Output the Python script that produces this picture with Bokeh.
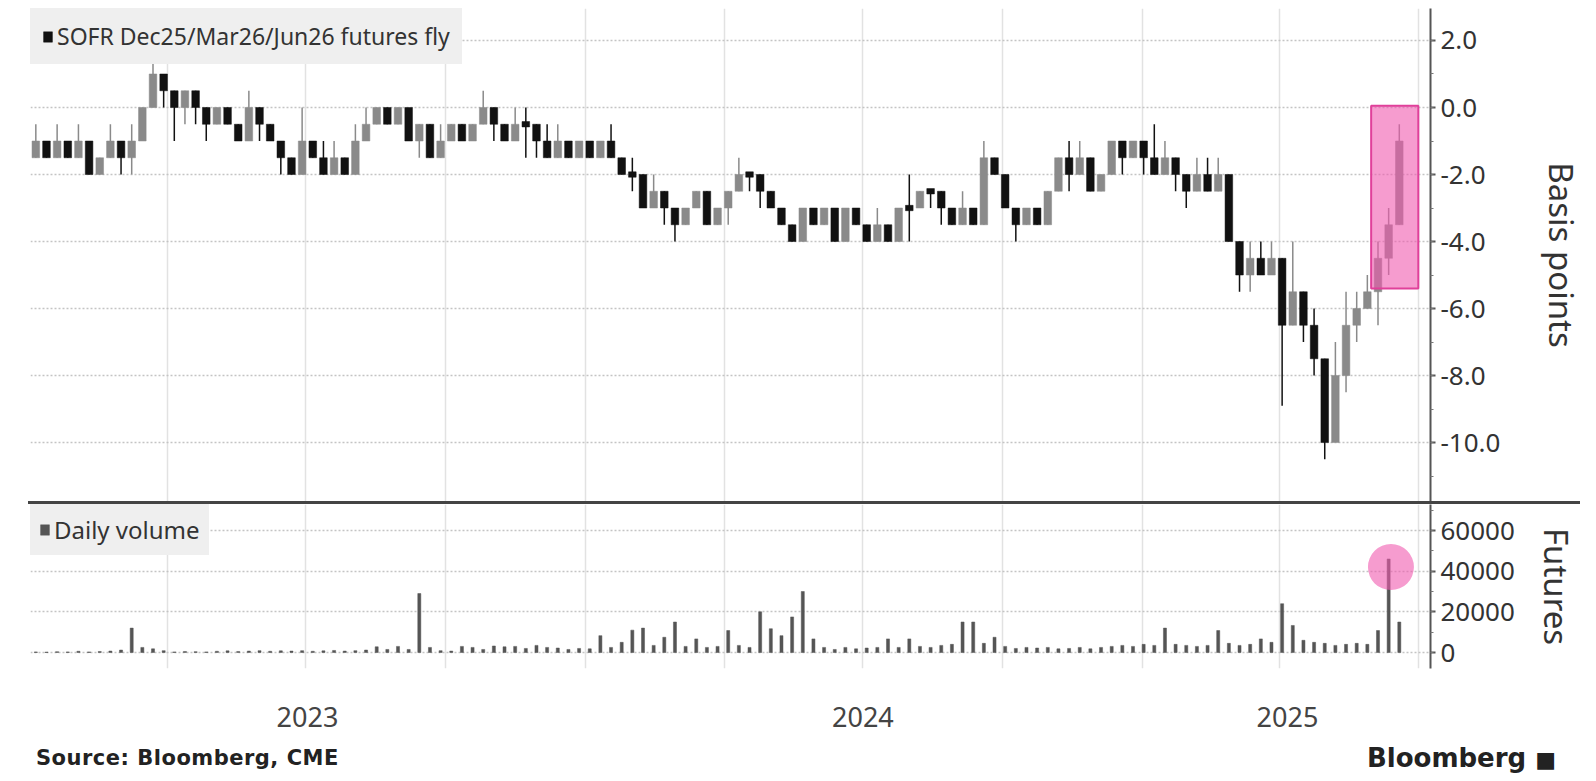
import pandas as pd
from bokeh.plotting import figure
from bokeh.layouts import column, row
from bokeh.models import (Range1d, FixedTicker, SingleIntervalTicker, Legend, LegendItem,
                          Div, Spacer, ColumnDataSource, NumeralTickFormatter, CustomJSTickFormatter)
from bokeh.embed import file_html
from bokeh.resources import INLINE

# ---------------- data (weekly bars) ----------------
first_open = -1.5
closes = [
    -1.0, -1.5, -1.0, -1.5, -1.0, -2.0, -1.5, -1.0, -1.5, -1.0,
    0.0, 1.0, 0.5, 0.0, 0.5, 0.0, -0.5, 0.0, -0.5, -1.0,
    0.0, -0.5, -1.0, -1.5, -2.0, -1.0, -1.5, -2.0, -1.5, -2.0,
    -1.0, -0.5, 0.0, -0.5, 0.0, -1.0, -0.5, -1.5, -1.0, -0.5,
    -1.0, -0.5, 0.0, -0.5, -1.0, -0.5, -0.5, -1.0, -1.5, -1.0,
    -1.5, -1.0, -1.5, -1.0, -1.5, -2.0, -2.0, -3.0, -2.5, -3.0,
    -3.5, -3.0, -2.5, -3.5, -3.0, -2.5, -2.0, -2.0, -2.5, -3.0,
    -3.5, -4.0, -3.0, -3.5, -3.0, -4.0, -3.0, -3.5, -4.0, -3.5,
    -4.0, -3.0, -3.0, -2.5, -2.5, -3.0, -3.5, -3.0, -3.5, -1.5,
    -2.0, -3.0, -3.5, -3.0, -3.5, -2.5, -1.5, -2.0, -1.5, -2.5,
    -2.0, -1.0, -1.5, -1.0, -1.5, -2.0, -1.5, -2.0, -2.5, -2.0,
    -2.5, -2.0, -4.0, -5.0, -4.5, -5.0, -4.5, -6.5, -5.5, -6.5,
    -7.5, -10.0, -8.0, -6.5, -6.0, -5.5, -4.5, -3.5, -1.0,
]
highs = [
    -0.5, -1.0, -0.5, -1.0, -0.5, -1.0, -1.5, -0.5, -1.0, -0.5,
    0.0, 1.5, 1.0, 0.5, 0.5, 0.5, 0.0, 0.0, 0.0, -0.5,
    0.5, 0.0, -0.5, -1.0, -1.5, 0.0, -1.0, -1.0, -1.0, -1.5,
    -0.5, 0.0, 0.0, 0.0, 0.0, -0.5, -0.5, -0.5, -0.5, -0.5,
    -0.5, -0.5, 0.5, 0.0, -0.5, 0.0, 0.0, -0.5, -0.5, -0.5,
    -1.0, -1.0, -1.0, -1.0, -0.5, -1.5, -1.5, -2.0, -2.0, -2.5,
    -3.0, -3.0, -2.5, -2.5, -3.0, -2.5, -1.5, -2.0, -2.0, -2.5,
    -3.0, -3.5, -3.0, -3.0, -3.0, -3.0, -3.0, -3.0, -3.5, -3.0,
    -3.5, -3.0, -2.0, -2.5, -2.5, -2.5, -3.0, -2.5, -3.0, -1.0,
    -1.5, -2.0, -3.0, -3.0, -3.0, -2.5, -1.5, -1.0, -1.0, -1.5,
    -2.0, -1.0, -1.0, -1.0, -1.0, -0.5, -1.0, -1.5, -2.0, -1.5,
    -1.5, -1.5, -2.0, -4.0, -4.0, -4.0, -4.0, -4.5, -4.0, -5.5,
    -6.0, -7.5, -7.0, -5.5, -5.5, -5.0, -4.0, -3.0, -0.5,
]
lows = [
    -1.5, -1.5, -1.5, -1.5, -1.5, -2.0, -2.0, -1.5, -2.0, -2.0,
    -1.0, 0.0, 0.0, -1.0, -0.5, -0.5, -1.0, -0.5, -0.5, -1.0,
    -1.0, -1.0, -1.0, -2.0, -2.0, -2.0, -1.5, -2.0, -2.0, -2.0,
    -2.0, -1.0, -0.5, -0.5, -0.5, -1.0, -1.5, -1.5, -1.5, -1.0,
    -1.0, -1.0, -0.5, -1.0, -1.0, -1.0, -1.5, -1.5, -1.5, -1.5,
    -1.5, -1.5, -1.5, -1.5, -1.5, -2.0, -2.5, -3.0, -3.0, -3.5,
    -4.0, -3.5, -3.0, -3.5, -3.5, -3.5, -2.5, -2.5, -3.0, -3.0,
    -3.5, -4.0, -4.0, -3.5, -3.5, -4.0, -4.0, -3.5, -4.0, -4.0,
    -4.0, -4.0, -4.0, -3.0, -3.0, -3.5, -3.5, -3.5, -3.5, -3.5,
    -2.0, -3.0, -4.0, -3.5, -3.5, -3.5, -2.5, -2.5, -2.0, -2.5,
    -2.5, -2.0, -2.0, -1.5, -2.0, -2.0, -2.0, -2.5, -3.0, -2.5,
    -2.5, -2.5, -4.0, -5.5, -5.5, -5.0, -5.0, -8.9, -6.5, -7.0,
    -8.0, -10.5, -9.0, -8.5, -7.0, -6.0, -6.5, -5.0, -3.5,
]
volume = [
    300, 200, 400, 300, 600, 300, 500, 700, 1200, 12000,
    2500, 1800, 900, 300, 500, 400, 300, 600, 800, 500,
    700, 900, 600, 800, 700, 900, 600, 800, 1000, 700,
    900, 1200, 2800, 1500, 3000, 1500, 29000, 2500, 900, 700,
    3000, 2500, 1500, 3200, 2800, 3000, 2000, 3500, 2500, 2200,
    1500, 2000, 1800, 8300, 2500, 5000, 11000, 12000, 3500, 7500,
    15000, 3000, 6700, 2500, 3000, 10800, 3500, 2500, 20000, 11700,
    8300, 17500, 30000, 6700, 2500, 1500, 2500, 1800, 2200, 2500,
    6700, 2500, 6700, 3000, 2500, 3500, 4000, 15000, 15000, 4500,
    7500, 3000, 2000, 2500, 2200, 2500, 1800, 2000, 2500, 1800,
    2500, 3000, 3500, 3000, 4000, 3500, 12000, 4000, 3500, 3000,
    3500, 10800, 4500, 3500, 4000, 6700, 5000, 24000, 13300, 6000,
    5000, 4500, 3500, 4000, 4500, 4000, 10800, 46000, 15000,
]
year_labels = ["2023", "2024", "2025"]
year_label_dates = ["2023-07-02", "2024-07-01", "2025-04-06"]
quarter_grid = ["2023-04-01", "2023-07-01", "2023-10-01", "2024-01-01", "2024-04-01",
                "2024-07-01", "2024-10-01", "2025-01-01", "2025-04-01", "2025-07-01"]
x_start, x_end = "2023-01-01", "2025-07-09"
highlight_dates = ["2025-05-31", "2025-07-01"]
highlight_bp = [-5.4, 0.05]
spike_date, spike_level = "2025-06-13", 42000

# ---------------- derived ----------------
def ms(d):
    return pd.Timestamp(d).value // 10**6

dates = pd.date_range("2023-01-01", periods=len(closes), freq="7D") + pd.Timedelta(days=3.5)
opens = [first_open] + closes[:-1]
tops, bots, cols = [], [], []
for o, c in zip(opens, closes):
    if c > o:
        tops.append(c); bots.append(o); cols.append("#8a8a8a")
    elif c < o:
        tops.append(o); bots.append(c); cols.append("#111111")
    else:
        tops.append(c + 0.08); bots.append(c - 0.08); cols.append("#111111")
src = ColumnDataSource(dict(x=dates, top=tops, bottom=bots, high=highs, low=lows, color=cols))
vsrc = ColumnDataSource(dict(x=dates, vol=volume))

FONT = "Noto Sans"
W = 1590
BL, BR = 30, 160
DAY = 86400000
LEG_BG = "#efefef"
xr = Range1d(pd.Timestamp(x_start), pd.Timestamp(x_end))

def style_y(ax, label, standoff):
    ax.axis_label = label
    ax.axis_label_text_font = FONT
    ax.axis_label_text_font_size = "33px"
    ax.axis_label_text_font_style = "normal"
    ax.axis_label_text_color = "#333333"
    ax.axis_label_standoff = standoff
    ax.major_label_text_font = FONT
    ax.major_label_text_font_size = "26px"
    ax.major_label_text_color = "#333333"
    ax.axis_line_color = "#555555"
    ax.axis_line_width = 2
    ax.major_tick_line_color = "#555555"
    ax.major_tick_line_width = 2
    ax.major_tick_in = 0
    ax.major_tick_out = 5
    ax.minor_tick_line_color = "#777777"
    ax.minor_tick_in = 0
    ax.minor_tick_out = 3

def style_grid(p):
    p.ygrid.grid_line_color = "#c4c4c4"
    p.ygrid.grid_line_dash = "2 2"
    p.ygrid.grid_line_width = 1.5
    p.xgrid.ticker = FixedTicker(ticks=[ms(d) for d in quarter_grid])
    p.xgrid.grid_line_color = "#e2e2e2"
    p.xgrid.grid_line_width = 1.5

# ---------------- top panel ----------------
p1 = figure(width=W, height=501, x_axis_type="datetime", x_axis_location=None,
            y_axis_location="right", x_range=xr, y_range=Range1d(-11.76, 2.955),
            output_backend="svg", toolbar_location=None,
            min_border_left=BL, min_border_right=BR, min_border_top=8, min_border_bottom=0)
p1.outline_line_color = None

p1.segment(x0="x", x1="x", y0="low", y1="high", source=src, line_color="color", line_width=1.5)
candles = p1.vbar(x="x", width=5.0 * DAY, top="top", bottom="bottom", source=src,
                  fill_color="color", line_color="color", line_width=0.5)

p1.quad(left=[pd.Timestamp(highlight_dates[0])], right=[pd.Timestamp(highlight_dates[1])],
        bottom=[highlight_bp[0]], top=[highlight_bp[1]],
        fill_color="#f05aaf", fill_alpha=0.6, line_color="#e0409a", line_width=2)

ya = p1.yaxis[0]
ya.ticker = SingleIntervalTicker(interval=2, num_minor_ticks=2)
ya.formatter = NumeralTickFormatter(format="0.0")
style_y(ya, "Basis points", 36)
style_grid(p1)

leg1 = Legend(items=[LegendItem(label="SOFR Dec25/Mar26/Jun26 futures fly", renderers=[candles], index=1)],
              location="top_left", margin=0, padding=0, spacing=0,
              background_fill_color=LEG_BG, background_fill_alpha=1.0,
              border_line_color=LEG_BG, border_line_width=12, border_line_alpha=1.0,
              label_text_font=FONT, label_text_font_size="23px",
              label_text_color="#333333", glyph_width=11, glyph_height=13, label_standoff=4,
              label_height=23)
p1.add_layout(leg1)

# ---------------- separator ----------------
sep = row(Spacer(width=28, height=3, margin=0),
          Div(text="", width=1552, height=3, margin=0,
              styles={"background-color": "#444444", "overflow": "hidden"}),
          spacing=0, margin=0)

# ---------------- bottom panel ----------------
p2 = figure(width=W, height=236, x_axis_type="datetime", y_axis_location="right",
            x_range=xr, y_range=Range1d(-7870, 72800),
            output_backend="svg", toolbar_location=None,
            min_border_left=BL, min_border_right=BR, min_border_top=0, min_border_bottom=72)
p2.outline_line_color = None

bars = p2.vbar(x="x", width=2.0 * DAY, top="vol", bottom=0, source=vsrc,
               fill_color="#555555", line_color="#555555", line_width=0.5)
p2.scatter(x=[pd.Timestamp(spike_date)], y=[spike_level], size=46, marker="circle",
           fill_color="#f05aaf", fill_alpha=0.6, line_color=None)

vy = p2.yaxis[0]
vy.ticker = SingleIntervalTicker(interval=20000, num_minor_ticks=2)
vy.formatter = NumeralTickFormatter(format="0")
style_y(vy, "Futures", 16)
style_grid(p2)

xa = p2.xaxis[0]
xa.ticker = FixedTicker(ticks=[ms(d) for d in year_label_dates])
xa.formatter = CustomJSTickFormatter(code="return String(new Date(tick).getUTCFullYear());")
xa.axis_line_color = None
xa.major_tick_line_color = None
xa.minor_tick_line_color = None
xa.major_tick_out = 0
xa.major_tick_in = 0
xa.major_label_standoff = 38
xa.major_label_text_font = FONT
xa.major_label_text_font_size = "27px"
xa.major_label_text_color = "#444444"

leg2 = Legend(items=[LegendItem(label="Daily volume", renderers=[bars])],
              location=(0, 113), margin=0, padding=0, spacing=0,
              background_fill_color=LEG_BG, background_fill_alpha=1.0,
              border_line_color=LEG_BG, border_line_width=9, border_line_alpha=1.0,
              label_text_font=FONT, label_text_font_size="24px",
              label_text_color="#333333", glyph_width=11, glyph_height=13, label_standoff=4,
              label_height=27)
p2.add_layout(leg2)

src_div = Div(text="Source: Bloomberg, CME", width=800, height=36, margin=0,
              styles={"font-family": "DejaVu Sans", "font-weight": "bold", "font-size": "21px",
                      "letter-spacing": "0.5px", "color": "#222222", "padding-left": "36px",
                      "line-height": "36px", "white-space": "nowrap"})
bb_div = Div(text="Bloomberg <span style='font-size:22px'>&#9632;</span>", width=790, height=36, margin=0,
             styles={"font-family": "DejaVu Sans", "font-weight": "bold", "font-size": "26px",
                     "color": "#222222", "text-align": "right", "padding-right": "34px",
                     "line-height": "36px", "white-space": "nowrap", "width": "790px",
                     "box-sizing": "border-box"})

layout = column(p1, sep, p2, row(src_div, bb_div, spacing=0, margin=0), spacing=0)
open("out.html", "w").write(file_html(layout, INLINE))
